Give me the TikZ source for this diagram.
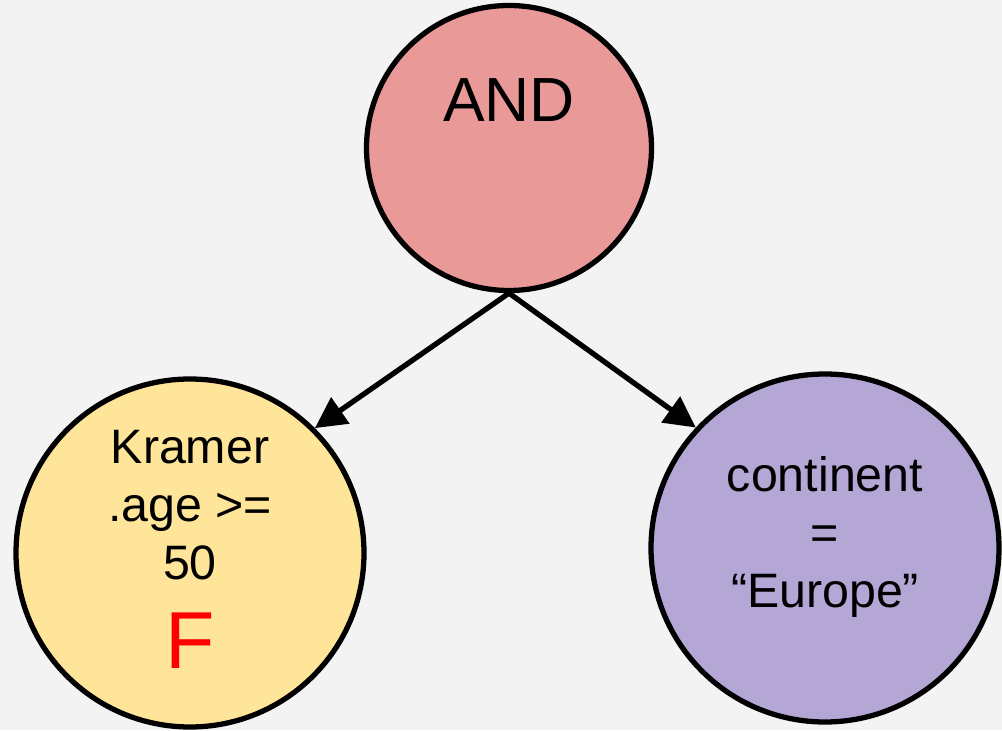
\documentclass[tikz,border=0pt]{standalone}
\usepackage{fontspec}
\setmainfont{Liberation Sans}
\usetikzlibrary{arrows.meta}

\definecolor{fondo}{HTML}{F3F3F3}
\definecolor{rojoc}{HTML}{EA9999}
\definecolor{amarilloc}{HTML}{FFE599}
\definecolor{moradoc}{HTML}{B4A7D6}

\begin{document}
\begin{tikzpicture}[
        nodo/.style={circle, draw=black, line width=3pt, inner sep=0pt},
        texto/.style={align=center, font=\fontsize{27.5}{33}\selectfont},
        flecha/.style={line width=3pt, -{Triangle[length=0.62cm, width=0.62cm]}}
    ]
        % Fondo
        \fill[fondo] (0,0) rectangle (20.04,14.6);
        \useasboundingbox (0,0) rectangle (20.04,14.6);

        % Nodos
        \node[nodo, fill=rojoc, minimum size=5.7cm] (and) at (10.18, 11.64) {};
        \node[nodo, fill=amarilloc, minimum size=6.96cm] (edad) at (3.8, 3.54) {};
        \node[nodo, fill=moradoc, minimum size=6.96cm] (cont) at (16.5, 3.64) {};

        % Textos
        \node[font=\fontsize{35.5}{40}\selectfont] (tand) at (10.18, 12.6) {AND};
        \node[texto] (tedad) at (3.8, 4.5) {Kramer\\.age >=\\50};
        \node[font=\fontsize{46}{50}\selectfont, text=red, anchor=base] (tf) at (3.8, 1.24) {F};
        \node[texto] (tcont) at (16.5, 3.86) {continent\\=\\“Europe”};

        % Aristas
        \draw[flecha] (and.south) -- (edad.45);
        \draw[flecha] (and.south) -- (cont.137);
    \end{tikzpicture}
\end{document}
